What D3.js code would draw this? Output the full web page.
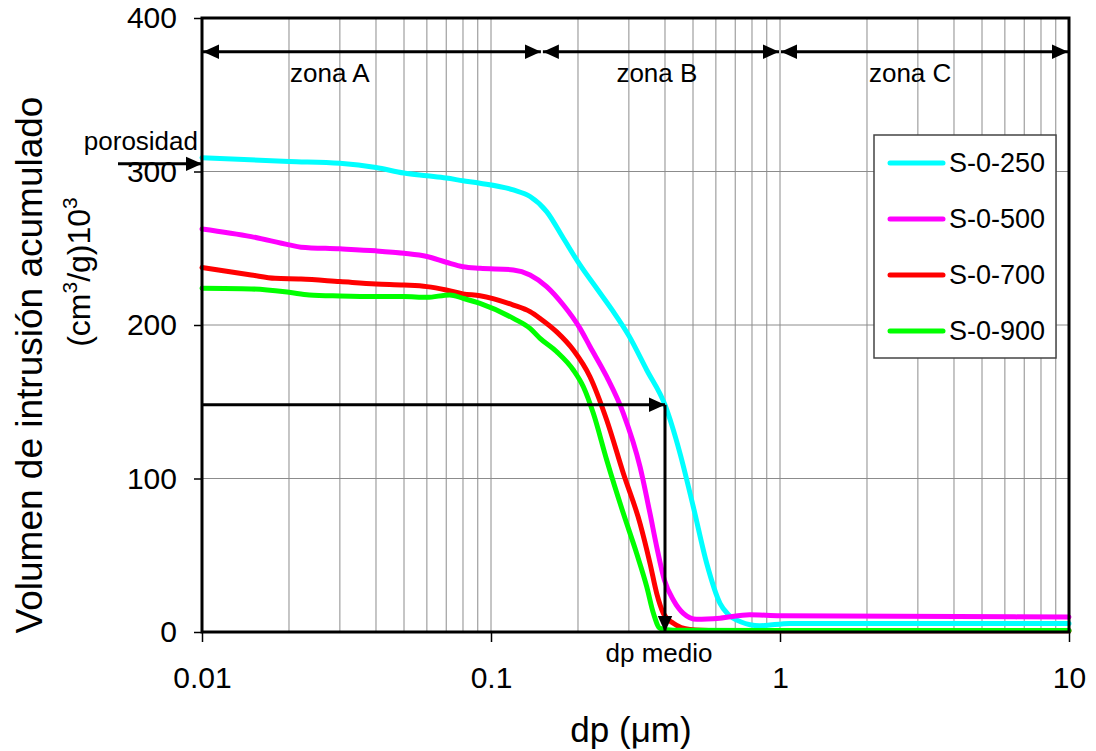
<!DOCTYPE html>
<html>
<head>
<meta charset="utf-8">
<script src="https://cdn.jsdelivr.net/npm/d3@7"></script>
<style>
    body { margin: 0; background: #fff; }
    svg { font-family: "Liberation Sans", Arial, sans-serif; }
    .grid line { stroke: #8c8c8c; stroke-width: 1; }
    .axis path { display: none; }
    .axis line { stroke: #000; stroke-width: 1.5; }
    .axis text { font-size: 30px; fill: #000; }
    .serie { fill: none; stroke-width: 5; stroke-linejoin: round; stroke-linecap: round; }
    .note { font-size: 26px; fill: #000; }
</style>
</head>
<body>
<div class="chart"></div>
<script>
// series names and colours
var seriesNames = ["S-0-250", "S-0-500", "S-0-700", "S-0-900"];
var seriesColors = ["#00ffff", "#ff00ff", "#ff0000", "#00ff00"];

// dp (um) and accumulated volume for every curve
var dp250 = [0.01, 0.02, 0.03, 0.04, 0.05, 0.06, 0.07, 0.08, 0.0916, 0.1195, 0.1365, 0.1558, 0.178, 0.2032, 0.232, 0.265, 0.3, 0.3458, 0.4, 0.4508, 0.501, 0.5576, 0.62, 0.658, 0.73, 0.85, 1.08, 2, 10];
var vol250 = [309, 306.5, 305.3, 302.6, 299, 297.2, 295.7, 294, 292.4, 288, 283.7, 273.9, 256.5, 239.1, 223.9, 208.7, 193, 170.7, 147.9, 116.4, 81.7, 44.8, 18.7, 12, 6.7, 4.1, 5.6, 5.6, 5.6];

var dp500 = [0.01, 0.0148, 0.02, 0.022, 0.03, 0.04, 0.05, 0.06, 0.07, 0.08, 0.0916, 0.1195, 0.1365, 0.1558, 0.178, 0.2032, 0.22, 0.2514, 0.287, 0.3278, 0.3549, 0.3744, 0.398, 0.4275, 0.463, 0.515, 0.62, 0.786, 1, 1.62, 10];
var vol500 = [262.6, 257.6, 252.2, 250.7, 249.6, 248.3, 246.7, 244.6, 240.9, 238, 237, 235.9, 232.6, 225, 213, 197.8, 186, 166.3, 142.5, 107.7, 77.3, 55.6, 33.9, 20.9, 12.2, 8.3, 9, 11.2, 10.6, 10.4, 9.7];

var dp700 = [0.01, 0.0148, 0.0179, 0.022, 0.03, 0.04, 0.05, 0.06, 0.07, 0.08, 0.0916, 0.1195, 0.1365, 0.1478, 0.1688, 0.1927, 0.22, 0.2514, 0.287, 0.3278, 0.3549, 0.3744, 0.3948, 0.4275, 0.488, 0.6, 1, 10];
var vol700 = [237.4, 232.6, 230.4, 230, 228.3, 226.7, 226, 225, 222.8, 220.2, 219.1, 213, 208.7, 204.3, 195.5, 183.7, 166.3, 138.1, 103.4, 70.8, 44.8, 25.2, 12.2, 5.7, 1.7, 1, 0.8, 0.8];

var dp900 = [0.01, 0.0148, 0.02, 0.0235, 0.03, 0.04, 0.05, 0.06, 0.072, 0.08, 0.0916, 0.1195, 0.1365, 0.1478, 0.1688, 0.1927, 0.2087, 0.226, 0.2514, 0.287, 0.319, 0.3458, 0.3647, 0.3846, 0.4275, 1, 10];
var vol900 = [223.9, 223.5, 221.3, 219.6, 218.9, 218.5, 218.5, 218, 219.6, 217.4, 214.1, 204.3, 197.8, 191.3, 182.6, 170.7, 159.8, 142.5, 112.1, 77.3, 51.3, 29.6, 12.2, 2.4, 1.2, 1, 1];

// axis ticks
var xTicks = [0.01, 0.1, 1, 10];
var yTicks = [0, 100, 200, 300, 400];
var yGrid = [100, 200, 300];

// annotations
var zoneBounds = [0.01, 0.15, 1, 10];
var zoneNames = ["zona A", "zona B", "zona C"];
var zoneLabelDp = [0.0277, 0.375, 2.82];
var zoneArrowVol = 378;
var dpMedio = 0.4;
var dpMedioVol = 148;
var porosidadVol = 305;

function drawChart() {
    var margin = { top: 18, right: 27, bottom: 119, left: 202 },
        width = 1096 - margin.left - margin.right,
        height = 751 - margin.top - margin.bottom;

    var x = d3.scaleLog().domain([0.01, 10]).range([0, width]);
    var y = d3.scaleLinear().domain([0, 400]).range([height, 0]);

    var svg = d3.select(".chart").append("svg")
        .attr("width", 1096)
        .attr("height", 751);

    var defs = svg.append("defs");
    defs.append("marker")
        .attr("id", "head")
        .attr("viewBox", "0 0 10 10")
        .attr("refX", 10)
        .attr("refY", 5)
        .attr("markerUnits", "userSpaceOnUse")
        .attr("markerWidth", 16)
        .attr("markerHeight", 16)
        .attr("orient", "auto-start-reverse")
        .append("path")
        .attr("d", "M0,0.5 L10,5 L0,9.5 Z")
        .attr("fill", "#000");

    var g = svg.append("g")
        .attr("transform", "translate(" + margin.left + "," + margin.top + ")");

    // minor log gridlines
    var vGrid = [];
    [0.01, 0.1, 1].forEach(function (dec) {
        for (var k = 2; k <= 10; k++) vGrid.push(dec * k);
    });
    vGrid.pop(); // 10 is the right border

    var grid = g.append("g").attr("class", "grid");
    grid.selectAll(".v")
        .data(vGrid)
        .enter().append("line")
        .attr("x1", d => x(d)).attr("x2", d => x(d))
        .attr("y1", 0).attr("y2", height);
    grid.selectAll(".h")
        .data(yGrid)
        .enter().append("line")
        .attr("x1", 0).attr("x2", width)
        .attr("y1", d => y(d)).attr("y2", d => y(d));

    // axes
    var xAxis = d3.axisBottom(x).tickValues(xTicks).tickFormat(d3.format("~g")).tickSize(10);
    var yAxis = d3.axisLeft(y).tickValues(yTicks).tickSize(8).tickPadding(17);

    var gx = g.append("g")
        .attr("class", "axis")
        .attr("transform", "translate(0," + height + ")")
        .call(xAxis);
    gx.selectAll("text").attr("y", 56).attr("dy", 0);

    g.append("g")
        .attr("class", "axis")
        .call(yAxis);

    // curves
    var line = d3.line()
        .curve(d3.curveMonotoneX)
        .x(d => x(d.dp))
        .y(d => y(d.vol));

    var curves = [[dp250, vol250], [dp500, vol500], [dp700, vol700], [dp900, vol900]].map(function (c, i) {
        return {
            name: seriesNames[i],
            values: c[0].map((v, j) => ({ dp: v, vol: c[1][j] }))
        };
    });

    g.selectAll(".serie")
        .data(curves)
        .enter().append("path")
        .attr("class", "serie")
        .attr("d", d => line(d.values))
        .style("stroke", (d, i) => seriesColors[i]);

    // plot frame
    g.append("rect")
        .attr("width", width)
        .attr("height", height)
        .attr("fill", "none")
        .attr("stroke", "#000")
        .attr("stroke-width", 3);

    // zone arrows
    for (var z = 0; z < 3; z++) {
        g.append("line")
            .attr("x1", x(zoneBounds[z]) + 1).attr("x2", x(zoneBounds[z + 1]) - 1)
            .attr("y1", y(zoneArrowVol)).attr("y2", y(zoneArrowVol))
            .attr("stroke", "#000").attr("stroke-width", 3)
            .attr("marker-start", "url(#head)")
            .attr("marker-end", "url(#head)");
        g.append("text")
            .attr("class", "note")
            .attr("x", x(zoneLabelDp[z]))
            .attr("y", y(zoneArrowVol) + 30)
            .attr("text-anchor", "middle")
            .text(zoneNames[z]);
    }

    // dp medio arrows
    g.append("line")
        .attr("x1", 0).attr("x2", x(dpMedio))
        .attr("y1", y(dpMedioVol)).attr("y2", y(dpMedioVol))
        .attr("stroke", "#000").attr("stroke-width", 3)
        .attr("marker-end", "url(#head)");
    g.append("line")
        .attr("x1", x(dpMedio)).attr("x2", x(dpMedio))
        .attr("y1", y(dpMedioVol)).attr("y2", y(0))
        .attr("stroke", "#000").attr("stroke-width", 3)
        .attr("marker-end", "url(#head)");
    g.append("text")
        .attr("class", "note")
        .attr("x", x(dpMedio) - 6)
        .attr("y", height + 30)
        .attr("text-anchor", "middle")
        .text("dp medio");

    // porosidad arrow
    g.append("line")
        .attr("x1", -84).attr("x2", 0)
        .attr("y1", y(porosidadVol)).attr("y2", y(porosidadVol))
        .attr("stroke", "#000").attr("stroke-width", 3)
        .attr("marker-end", "url(#head)");
    g.append("text")
        .attr("class", "note")
        .attr("x", -4)
        .attr("y", y(porosidadVol) - 14)
        .attr("text-anchor", "end")
        .text("porosidad");

    // legend
    var legend = g.append("g")
        .attr("transform", "translate(" + (width - 195) + ",117)");
    legend.append("rect")
        .attr("width", 182)
        .attr("height", 223)
        .attr("fill", "#fff")
        .attr("stroke", "#444")
        .attr("stroke-width", 1.5);
    var item = legend.selectAll(".item")
        .data(seriesNames)
        .enter().append("g")
        .attr("transform", (d, i) => "translate(0," + (28 + i * 56) + ")");
    item.append("line")
        .attr("x1", 16).attr("x2", 69)
        .attr("stroke", (d, i) => seriesColors[i])
        .attr("stroke-width", 5)
        .attr("stroke-linecap", "round");
    item.append("text")
        .attr("x", 75)
        .attr("dy", "0.35em")
        .style("font-size", "27px")
        .text(d => d);

    // axis titles
    svg.append("text")
        .attr("x", 631)
        .attr("y", 742)
        .attr("text-anchor", "middle")
        .style("font-size", "35px")
        .text("dp (\u03bcm)");

    svg.append("text")
        .attr("transform", "translate(42,365) rotate(-90)")
        .attr("text-anchor", "middle")
        .style("font-size", "37px")
        .text("Volumen de intrusión acumulado");

    var t2 = svg.append("text")
        .attr("transform", "translate(90,272) rotate(-90)")
        .attr("text-anchor", "middle")
        .style("font-size", "32px");
    t2.append("tspan").text("(cm");
    t2.append("tspan").attr("dy", -13).style("font-size", "21px").text("3");
    t2.append("tspan").attr("dy", 13).text("/g)10");
    t2.append("tspan").attr("dy", -13).style("font-size", "21px").text("3");
}

drawChart();
</script>
</body>
</html>
